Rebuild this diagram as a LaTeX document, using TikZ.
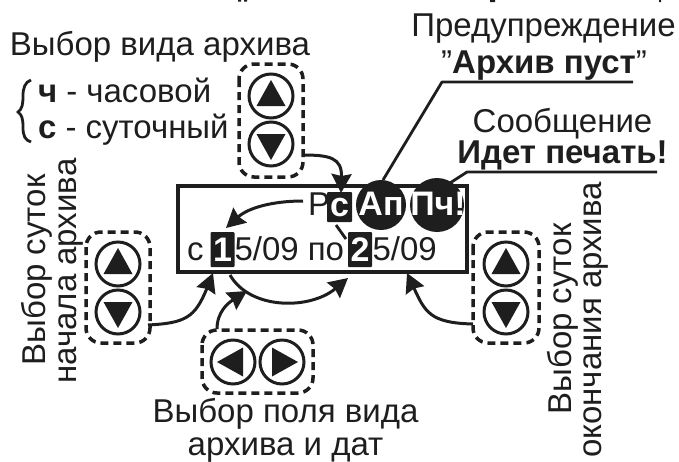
\documentclass[tikz,border=0pt]{standalone}
\usepackage{fontspec}
\setmainfont{Liberation Sans}
\usetikzlibrary{arrows.meta,calc}
\definecolor{ink}{HTML}{1E1E1E}
\tikzset{
  x=1pt,y=-1pt,
  every node/.style={inner sep=0pt,outer sep=0pt,text=ink},
  lab/.style={font=\fontsize{33}{38}\selectfont,align=center},
  lcd/.style={font=\fontsize{33}{38}\selectfont},
  conn/.style={draw=ink,line width=3pt,-{Stealth[length=19pt,width=20pt,inset=2pt]}},
  plainln/.style={draw=ink,line width=2.8pt},
  grp/.style={draw=ink,line width=3.5pt,rounded corners=15pt,dash pattern=on 8pt off 5pt},
  btn/.style={circle,draw=ink,line width=3pt,minimum size=44pt,fill=white},
  tri/.style={fill=ink,draw=none},
  inv/.style={fill=ink,minimum width=24pt,minimum height=35pt,rounded corners=1pt,text=white,font=\fontsize{34}{36}\selectfont\bfseries},
  badge/.style={circle,fill=ink,text=white,font=\fontsize{34}{36}\selectfont\bfseries},
}
\newcommand{\updown}[3]{%
  \node[btn] (#1u) at (#2,#3-24) {};
  \node[btn] (#1d) at (#2,#3+24) {};
  \fill[tri] (#2,#3-24-16) -- (#2+14.5,#3-24+10) -- (#2-14.5,#3-24+10) -- cycle;
  \fill[tri] (#2,#3+24+16) -- (#2+14.5,#3+24-10) -- (#2-14.5,#3+24-10) -- cycle;
}
\begin{document}
\begin{tikzpicture}
\useasboundingbox (0,0) rectangle (679,461);
% clipped remains of a line above the crop
\fill[ink] (238,0) rectangle (241,1.5) (244,0) rectangle (247,1.5) (490,0) rectangle (495,2) (659,0) rectangle (661,2);
% panel
\node[draw=ink,line width=3.4pt,minimum width=289pt,minimum height=86pt,anchor=north west] (panel) at (178,186) {};
% panel contents
\node[lcd,anchor=base west] (p) at (308,215) {Р};
\node[inv,minimum width=25pt,minimum height=30pt,text depth=0pt] (c) at (339.5,207) {с};
\node[badge,minimum size=50pt] (apb) at (381,205) {};
\node[badge,minimum size=54pt] (pcb) at (437,205) {};
\node[badge,fill=none,anchor=base] (ap) at (381,215) {Ап};
\node[badge,fill=none,anchor=base] (pc) at (438,215) {Пч!};
\node[lcd,anchor=base west] (s) at (187,260) {с};
\node[inv] (one) at (222.5,249.5) {1};
\node[lcd,anchor=base west] (d1) at (234.5,260) {5/09 по};
\node[inv] (two) at (360,249.5) {2};
\node[lcd,anchor=base west] (d2) at (372.5,260) {5/09};
% labels
\node[lab,anchor=base] (t1) at (160,55) {Выбор вида архива};
\node[lab,anchor=base west] (t2) at (38,102) {\textbf{ч} - часовой};
\node[lab,anchor=base west] (t3) at (38,138) {\textbf{с} - суточный};
\node[lab,anchor=base] (t4) at (543.5,36) {Предупреждение};
\node[lab,anchor=base] (t5) at (544,73) {"\textbf{Архив пуст}"};
\node[lab,anchor=base] (t6) at (562.5,132) {Сообщение};
\node[lab,anchor=base] (t7) at (562.5,163) {\textbf{Идет печать!}};
\node[lab,anchor=base] (t8) at (285.5,422) {Выбор поля вида};
\node[lab,anchor=base] (t9) at (285.5,455) {архива и дат};
\node[lab,rotate=90,anchor=base] (t10) at (45,270) {Выбор суток};
\node[lab,rotate=90,anchor=base] (t11) at (76,271) {начала архива};
\node[lab,rotate=90,anchor=base] (t12) at (571,319) {Выбор суток};
\node[lab,rotate=90,anchor=base] (t13) at (601,320) {окончания архива};
% brace
\draw[plainln] (31,80) .. controls (25,82) and (23,88) .. (23,96) .. controls (23,105) and (22,109) .. (18,112) .. controls (22,115) and (23,119) .. (23,127) .. controls (23,136) and (25,140) .. (31,142);
% buttons
\updown{a}{271}{120}
\updown{b}{118}{288}
\updown{e}{506}{288}
\node[btn] (l) at (233,362) {};
\node[btn] (r) at (282,362) {};
\fill[tri] (217,362) -- (243,347.5) -- (243,376.5) -- cycle;
\fill[tri] (298,362) -- (272,347.5) -- (272,376.5) -- cycle;
% groups
\coordinate (g1a) at (239,64); \coordinate (g1b) at (303,177);
\draw[grp] (g1a) rectangle (g1b);
\coordinate (g2a) at (86,232); \coordinate (g2b) at (150,343);
\draw[grp] (g2a) rectangle (g2b);
\coordinate (g3a) at (473,232); \coordinate (g3b) at (539,343);
\draw[grp] (g3a) rectangle (g3b);
\coordinate (g4a) at (202,330); \coordinate (g4b) at (313,393);
\draw[grp] (g4a) rectangle (g4b);
% connectors
\coordinate (f1) at (303,155);
\coordinate (f1t) at (341,193);
\draw[conn] (f1) .. controls (330,155) and (342,158) .. (f1t);
\coordinate (f2) at (303,201); \coordinate (f2t) at (226,228);
\draw[conn] (f2) .. controls (272,201) and (248,208) .. (f2t);
\coordinate (f3) at (148,325); \coordinate (f4) at (213,273);
\draw[conn] (f3) .. controls (185,323) and (195,318) .. (f4);
\coordinate (f5) at (217,329); \coordinate (f6) at (247,291);
\draw[conn] (f5) .. controls (217,312) and (228,303) .. (f6);
\coordinate (f7) at (230,275); \coordinate (f8) at (348,278);
\draw[conn] (f7) .. controls (250,310) and (310,310) .. (f8);
\coordinate (f9) at (473,324); \coordinate (f10) at (407,273);
\draw[conn] (f9) .. controls (430,323) and (425,312) .. (f10);
% leaders
\coordinate (a1) at (633,82); \coordinate (a2) at (442,82); \coordinate (a3) at (383,180);
\draw[plainln,line join=round] (a1) -- (a2) -- (a3);
\coordinate (b1) at (657,172); \coordinate (b2) at (467,172); \coordinate (b3) at (450,183);
\draw[plainln,line join=round] (b1) -- (b2) -- (b3);
\coordinate (k1) at (336,225); \coordinate (k2) at (346,239);
\draw[plainln] (k1) -- (k2);
\end{tikzpicture}
\end{document}
